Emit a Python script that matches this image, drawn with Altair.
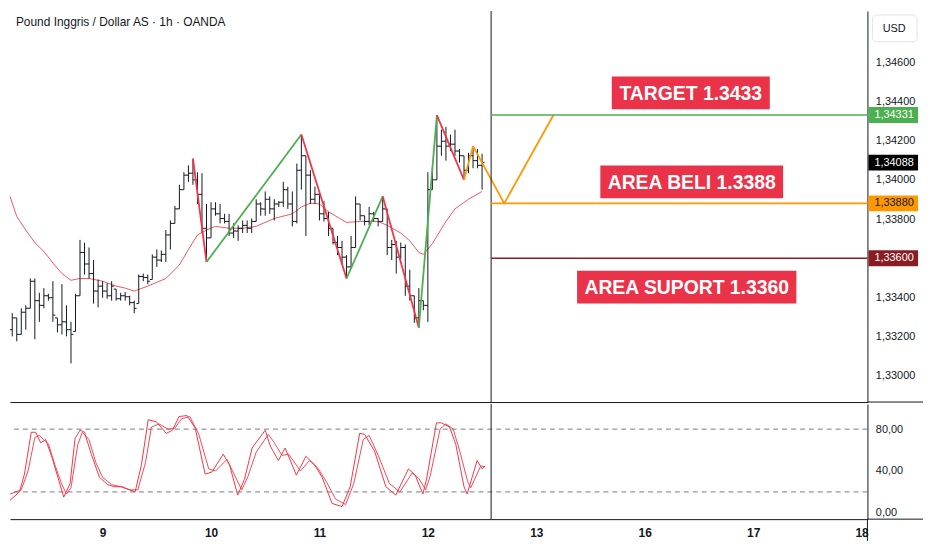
import altair as alt
import pandas as pd

# ---------------- data ----------------
TITLE = "Pound Inggris / Dollar AS · 1h · OANDA"
FIRST_BAR = -20          # bar index, 0 = first hour of day 9, 1 unit = 1 hour

bar_open = [1.33236, 1.33296, 1.33212, 1.33325, 1.33345, 1.33483, 1.33384, 1.33360, 1.33409, 1.33399,
            1.33296, 1.33261, 1.33276, 1.33236, 1.33227, 1.33409, 1.33630, 1.33571, 1.33522, 1.33433,
            1.33458, 1.33433, 1.33409, 1.33443, 1.33394, 1.33409, 1.33404, 1.33374, 1.33369, 1.33507,
            1.33502, 1.33492, 1.33606, 1.33591, 1.33620, 1.33719, 1.33778, 1.33852, 1.33950, 1.34024,
            1.34034, 1.34000, 1.33926, 1.33753, 1.33704, 1.33852, 1.33827, 1.33803, 1.33788, 1.33729,
            1.33739, 1.33753, 1.33768, 1.33753, 1.33788, 1.33877, 1.33852, 1.33901, 1.33852, 1.33877,
            1.33886, 1.33950, 1.33877, 1.33788, 1.34049, 1.34123, 1.34024, 1.33901, 1.33926, 1.33827,
            1.33803, 1.33753, 1.33680, 1.33655, 1.33606, 1.33556, 1.33655, 1.33877, 1.33817, 1.33788,
            1.33827, 1.33803, 1.33788, 1.33852, 1.33655, 1.33670, 1.33606, 1.33655, 1.33458, 1.33409,
            1.33296, 1.33384, 1.33360, 1.33950, 1.34000, 1.34172, 1.34197, 1.34172, 1.34182, 1.34147,
            1.34123, 1.34049, 1.34123, 1.34098, 1.34074]
bar_high = [1.33320, 1.33296, 1.33345, 1.33360, 1.33497, 1.33497, 1.33424, 1.33448, 1.33419, 1.33483,
            1.33296, 1.33468, 1.33360, 1.33276, 1.33419, 1.33694, 1.33680, 1.33655, 1.33591, 1.33492,
            1.33483, 1.33473, 1.33483, 1.33443, 1.33424, 1.33428, 1.33409, 1.33384, 1.33517, 1.33522,
            1.33517, 1.33620, 1.33645, 1.33640, 1.33744, 1.33793, 1.33867, 1.33975, 1.34039, 1.34074,
            1.34108, 1.34039, 1.34034, 1.33877, 1.33886, 1.33886, 1.33877, 1.33827, 1.33827, 1.33778,
            1.33768, 1.33793, 1.33793, 1.33803, 1.33901, 1.33886, 1.33941, 1.33916, 1.33901, 1.33891,
            1.33990, 1.33965, 1.33941, 1.34083, 1.34231, 1.34123, 1.34049, 1.33965, 1.33941, 1.33891,
            1.33837, 1.33753, 1.33714, 1.33689, 1.33616, 1.33714, 1.33916, 1.33877, 1.33817, 1.33862,
            1.33837, 1.33803, 1.33916, 1.33852, 1.33694, 1.33689, 1.33680, 1.33670, 1.33542, 1.33409,
            1.33448, 1.33384, 1.34039, 1.34064, 1.34330, 1.34256, 1.34270, 1.34231, 1.34256, 1.34157,
            1.34123, 1.34138, 1.34172, 1.34157, 1.34133]
bar_low = [1.33202, 1.33177, 1.33212, 1.33236, 1.33345, 1.33187, 1.33276, 1.33345, 1.33384, 1.33276,
           1.33222, 1.33212, 1.33202, 1.33064, 1.33227, 1.33409, 1.33517, 1.33497, 1.33369, 1.33350,
           1.33399, 1.33394, 1.33384, 1.33384, 1.33384, 1.33384, 1.33360, 1.33320, 1.33369, 1.33483,
           1.33468, 1.33492, 1.33556, 1.33581, 1.33581, 1.33645, 1.33778, 1.33852, 1.33950, 1.33990,
           1.33975, 1.33877, 1.33729, 1.33581, 1.33704, 1.33817, 1.33778, 1.33778, 1.33714, 1.33704,
           1.33689, 1.33729, 1.33729, 1.33729, 1.33788, 1.33817, 1.33817, 1.33827, 1.33793, 1.33862,
           1.33862, 1.33852, 1.33763, 1.33778, 1.33950, 1.33714, 1.33877, 1.33877, 1.33793, 1.33788,
           1.33714, 1.33670, 1.33616, 1.33571, 1.33497, 1.33556, 1.33655, 1.33793, 1.33768, 1.33768,
           1.33788, 1.33763, 1.33788, 1.33616, 1.33591, 1.33522, 1.33596, 1.33409, 1.33384, 1.33271,
           1.33246, 1.33335, 1.33276, 1.33950, 1.34000, 1.34123, 1.34098, 1.34147, 1.34123, 1.34088,
           1.34000, 1.34034, 1.34059, 1.34059, 1.33950]
bar_close = [1.33296, 1.33212, 1.33325, 1.33345, 1.33483, 1.33384, 1.33360, 1.33409, 1.33399, 1.33310,
             1.33261, 1.33276, 1.33236, 1.33212, 1.33409, 1.33630, 1.33571, 1.33522, 1.33433, 1.33458,
             1.33433, 1.33409, 1.33458, 1.33394, 1.33409, 1.33404, 1.33374, 1.33345, 1.33507, 1.33502,
             1.33483, 1.33606, 1.33591, 1.33620, 1.33719, 1.33778, 1.33852, 1.33950, 1.34024, 1.34034,
             1.34000, 1.33926, 1.33753, 1.33704, 1.33852, 1.33827, 1.33803, 1.33788, 1.33729, 1.33739,
             1.33753, 1.33768, 1.33753, 1.33788, 1.33877, 1.33852, 1.33901, 1.33852, 1.33877, 1.33886,
             1.33950, 1.33877, 1.33788, 1.34049, 1.34123, 1.34024, 1.33901, 1.33926, 1.33827, 1.33803,
             1.33753, 1.33680, 1.33655, 1.33606, 1.33556, 1.33655, 1.33877, 1.33817, 1.33788, 1.33827,
             1.33803, 1.33788, 1.33852, 1.33655, 1.33670, 1.33606, 1.33655, 1.33458, 1.33409, 1.33296,
             1.33384, 1.33360, 1.33950, 1.34000, 1.34172, 1.34197, 1.34172, 1.34182, 1.34147, 1.34123,
             1.34049, 1.34123, 1.34098, 1.34074, 1.34088]

ma_idx = [-20.5, -19, -17, -15, -13, -11, -9, -7, -5, -3, 0, 3, 5, 7, 10, 14, 17, 19, 21, 23, 25, 28,
          31, 34, 38, 42, 44, 46, 48, 50, 54, 57, 61, 63, 66, 68, 70, 71, 73, 76, 78, 81, 84]
ma_val = [1.33916, 1.33813, 1.33744, 1.33680, 1.33635, 1.33576, 1.33522, 1.33488, 1.33497, 1.33497,
          1.33483, 1.33458, 1.33448, 1.33433, 1.33458, 1.33497, 1.33566, 1.33645, 1.33719, 1.33744,
          1.33763, 1.33753, 1.33753, 1.33763, 1.33803, 1.33827, 1.33862, 1.33881, 1.33877, 1.33837,
          1.33783, 1.33788, 1.33788, 1.33768, 1.33729, 1.33689, 1.33630, 1.33620, 1.33675, 1.33788,
          1.33852, 1.33901, 1.33941]

k_idx = [-20.5, -18.4, -17.3, -15.8, -14.8, -13.7, -12.6, -11.2, -9.7, -8.6, -7.2, -6.1, -5.0, -4.0,
         -2.5, -0.7, 1.1, 2.5, 4.3, 5.4, 7.2, 8.6, 10.1, 11.9, 14.1, 15.5, 16.9, 18.7, 20.5, 22.7, 24.2,
         26.7, 28.1, 29.9, 31.4, 33.1, 36.0, 37.1, 38.9, 40.4, 42.9, 45.0, 46.9, 48.6, 50.8, 53.0, 54.8,
         56.9, 58.0, 60.2, 62.7, 64.9, 67.7, 69.2, 70.9, 71.7, 73.9, 75.0, 76.8, 78.2, 80.0, 80.7, 82.9,
         84.0, 84.7]
k_val = [12, 20, 37, 77, 77, 67, 70, 53, 31, 15, 28, 71, 79, 77, 56, 34, 27, 25, 25, 23, 20, 46, 89,
         87, 76, 79, 92, 93, 81, 37, 39, 56, 46, 17, 32, 62, 79, 64, 50, 62, 36, 54, 46, 34, 9, 6, 25,
         76, 75, 59, 25, 17, 42, 36, 18, 32, 86, 86, 82, 65, 25, 18, 50, 42, 45]
d_idx = [-20.5, -18, -16.5, -15, -14, -13, -12, -10.5, -9, -8, -7, -5.5, -4.5, -3, -1.5, 0, 2, 4, 6,
         7.8, 9.5, 10.8, 12.5, 14.5, 16, 17.5, 19.3, 21.3, 23.5, 25, 27.5, 29, 30.8, 32.2, 34, 36.7, 38,
         39.7, 41.2, 43.8, 45.8, 47.6, 49.5, 51.6, 53.8, 55.6, 57.7, 59, 61, 63.5, 65.8, 68.5, 70, 71.5,
         72.5, 74.7, 76, 77.6, 79, 80.8, 81.5, 83.7, 84.7]
d_val = [18, 22, 40, 72, 74, 70, 66, 45, 27, 18, 24, 65, 77, 70, 48, 34, 27, 25, 22, 22, 48, 82, 85,
         80, 81, 90, 92, 75, 42, 40, 51, 38, 22, 35, 58, 75, 67, 55, 56, 40, 50, 43, 30, 13, 8, 28, 70,
         74, 55, 28, 20, 38, 33, 22, 35, 80, 85, 80, 60, 30, 24, 45, 44]

pivot_idx = [20, 23, 44, 54, 62, 70, 74, 80, 82, 88.9, 99.8]
pivot_price = [1.34108, 1.33581, 1.34231, 1.33497, 1.33916, 1.33246, 1.34330, 1.34000, 1.34172,
               1.33880, 1.34331]
seg_kind = ["down", "up", "down", "up", "down", "up", "down", "plan", "plan", "plan"]

now_idx = 86
level_price = [1.34331, 1.33880, 1.33600]
level_name = ["TARGET 1.3433", "AREA BELI 1.3388", "AREA SUPORT 1.3360"]
label_idx = [130.2, 130.4, 129.3]
label_price = [1.34443, 1.33990, 1.33453]
last_price = 1.34088

price_ticks = [1.330, 1.332, 1.334, 1.338, 1.340, 1.342, 1.344, 1.346]
stoch_ticks = [0, 40, 80]
stoch_bands = [20, 80]
day_idx = [0, 24, 48, 72, 96, 120, 144, 168]
day_labels = ["9", "10", "11", "12", "13", "16", "17", "18"]

# ---------------- styling ----------------
W, H1, H2 = 864, 394, 116
FONT = "Liberation Sans, Arial, sans-serif"
INK = "#131722"
RED = "#f23645"
GREEN = "#4caf50"
ORANGE = "#ff9800"
MAROON = "#8a1c24"
LABEL_RED = "#ea3349"
ANN_SIZE = 19.5
kind_color = {"up": GREEN, "down": RED, "plan": ORANGE}
level_color = [GREEN, ORANGE, MAROON]
level_txt = ["#ffffff", INK, "#ffffff"]

# bold Liberation Sans advance widths (em) for the annotation boxes
BOLD_EM = {"A": .722, "R": .722, "E": .667, "T": .611, "G": .778, "B": .722, "L": .611, "I": .278,
           "S": .667, "U": .722, "P": .667, "O": .778, " ": .278, ".": .278}

xs = alt.Scale(domain=[-20.5, 169.3], nice=False, zero=False)
ys = alt.Scale(domain=[1.32867, 1.34861], nice=False, zero=False)
ss = alt.Scale(domain=[-6, 104], nice=False, zero=False)

x_main_axis = alt.Axis(title=None, labels=False, ticks=False, grid=False,
                       domainColor=INK, domainWidth=1)
y_main_axis = alt.Axis(orient="right", title=None, values=price_ticks, ticks=False, grid=False,
                       labelExpr="replace(format(datum.value, '.5f'), '.', ',')",
                       domainColor=INK, labelColor=INK, labelFont=FONT, labelFontSize=11,
                       labelPadding=8)
x_st_axis = alt.Axis(title=None, values=day_idx, ticks=False, grid=False, labelFlush=False,
                     labelExpr=f"{day_labels}[round(datum.value / 24)]",
                     domainColor=INK, labelColor=INK, labelFont=FONT, labelFontSize=12,
                     labelFontWeight="bold", labelPadding=8)
y_st_axis = alt.Axis(orient="right", title=None, values=stoch_ticks, ticks=False, grid=False,
                     labelExpr="replace(format(datum.value, '.2f'), '.', ',')",
                     domainColor=INK, labelColor=INK, labelFont=FONT, labelFontSize=11,
                     labelPadding=8)


def X(f):
    return alt.X(f"{f}:Q", scale=xs, axis=x_main_axis)


def Y(f):
    return alt.Y(f"{f}:Q", scale=ys, axis=y_main_axis)


def XS(f):
    return alt.X(f"{f}:Q", scale=xs, axis=x_st_axis)


def YS(f):
    return alt.Y(f"{f}:Q", scale=ss, axis=y_st_axis)


def comma(v):
    return f"{v:.5f}".replace(".", ",")


def box_width(s, em=ANN_SIZE):
    return sum(BOLD_EM.get(ch, .556) for ch in s) * em + 14


one = pd.DataFrame({"t": [TITLE]})

# ---------------- main price panel ----------------
bars = pd.DataFrame({"i": list(range(FIRST_BAR, FIRST_BAR + len(bar_high))),
                     "o": bar_open, "h": bar_high, "l": bar_low, "c": bar_close})
ma_df = pd.DataFrame({"i": ma_idx, "v": ma_val})
seg_df = pd.DataFrame({"x1": pivot_idx[:-1], "x2": pivot_idx[1:],
                       "y1": pivot_price[:-1], "y2": pivot_price[1:],
                       "col": [kind_color[k] for k in seg_kind]})
lev_df = pd.DataFrame({"s": [now_idx] * len(level_price), "p": level_price, "col": level_color})
box_df = pd.DataFrame({"p": level_price + [last_price],
                       "col": level_color + ["#000000"],
                       "tc": level_txt + ["#ffffff"],
                       "lab": [comma(v) for v in level_price + [last_price]]})
now_df = pd.DataFrame({"i": [now_idx]})

ma = alt.Chart(ma_df).mark_line(color=RED, strokeWidth=1, opacity=0.85).encode(x=X("i"), y=Y("v"))
hl = alt.Chart(bars).mark_rule(color=INK, strokeWidth=1).encode(x=X("i"), y=Y("l"), y2="h")
op = alt.Chart(bars).mark_tick(orient="horizontal", color=INK, size=2.4, thickness=1,
                               xOffset=-1.2, opacity=1).encode(x=X("i"), y=Y("o"))
cl = alt.Chart(bars).mark_tick(orient="horizontal", color=INK, size=2.4, thickness=1,
                               xOffset=1.2, opacity=1).encode(x=X("i"), y=Y("c"))
zz = alt.Chart(seg_df).mark_rule(strokeWidth=1.8).encode(
    x=X("x1"), x2="x2", y=Y("y1"), y2="y2", color=alt.Color("col:N", scale=None))
now_main = alt.Chart(now_df).mark_rule(color=INK, strokeWidth=1).encode(x=X("i"))
lev = alt.Chart(lev_df).mark_rule(strokeWidth=1.6).encode(
    x=X("s"), x2=alt.value(W), y=Y("p"), color=alt.Color("col:N", scale=None))

ann_layers = []
for name, xi, pr in zip(level_name, label_idx, label_price):
    d = pd.DataFrame({"i": [xi], "p": [pr], "t": [name]})
    ann_layers.append(alt.Chart(d).mark_tick(orient="horizontal", color=LABEL_RED, opacity=1,
                                             size=box_width(name), thickness=33)
                      .encode(x=X("i"), y=Y("p")))
    ann_layers.append(alt.Chart(d).mark_text(color="white", font=FONT, fontSize=ANN_SIZE,
                                             fontWeight="bold", baseline="middle", dy=1)
                      .encode(x=X("i"), y=Y("p"), text="t:N"))

axis_boxes = alt.Chart(box_df).mark_tick(orient="horizontal", opacity=1, size=50,
                                         thickness=16).encode(
    x=alt.value(W + 26), y=Y("p"), color=alt.Color("col:N", scale=None))
axis_box_txt = alt.Chart(box_df).mark_text(align="left", baseline="middle", font=FONT,
                                           fontSize=11).encode(
    x=alt.value(W + 7), y=Y("p"), text="lab:N", color=alt.Color("tc:N", scale=None))

usd_box = alt.Chart(one).mark_rect(fill="white", stroke="#e0e3eb", cornerRadius=4).encode(
    x=alt.value(W + 5), x2=alt.value(W + 50), y=alt.value(4), y2=alt.value(31))
usd_txt = alt.Chart(one).mark_text(font=FONT, fontSize=11, color=INK, baseline="middle").encode(
    x=alt.value(W + 27), y=alt.value(18), text=alt.value("USD"))
title_txt = alt.Chart(one).mark_text(align="left", baseline="middle", font=FONT, fontSize=12,
                                     color=INK).encode(
    x=alt.value(6), y=alt.value(11), text="t:N")
sep_ext = alt.Chart(one).mark_rule(color=INK, strokeWidth=1).encode(
    x=alt.value(W), x2=alt.value(W + 56), y=alt.value(H1))

main = alt.layer(ma, hl, op, cl, zz, now_main, lev, *ann_layers, axis_boxes, axis_box_txt,
                 usd_box, usd_txt, title_txt, sep_ext).properties(width=W, height=H1)

# ---------------- stochastic panel ----------------
band_df = pd.DataFrame({"b": stoch_bands})
k_df = pd.DataFrame({"i": k_idx, "v": k_val})
d_df = pd.DataFrame({"i": d_idx, "v": d_val})

bands = alt.Chart(band_df).mark_rule(color="#787b86", strokeDash=[5, 4], strokeWidth=1).encode(
    y=YS("b"))
kline = alt.Chart(k_df).mark_line(color=RED, strokeWidth=1).encode(x=XS("i"), y=YS("v"))
dline = alt.Chart(d_df).mark_line(color=RED, strokeWidth=1, opacity=0.9).encode(x=XS("i"), y=YS("v"))
now_st = alt.Chart(now_df).mark_rule(color=INK, strokeWidth=1).encode(x=XS("i"))
bot_ext = alt.Chart(one).mark_rule(color=INK, strokeWidth=1).encode(
    x=alt.value(W), x2=alt.value(W + 56), y=alt.value(H2))
right_ext = alt.Chart(one).mark_rule(color=INK, strokeWidth=1).encode(
    x=alt.value(W), y=alt.value(H2), y2=alt.value(H2 + 22))

stoch = alt.layer(bands, dline, kline, now_st, bot_ext, right_ext).properties(width=W, height=H2)

chart = alt.vconcat(main, stoch, spacing=0).properties(
    padding=0, background="white"
).configure(font=FONT).configure_view(stroke=None)

chart.save("out.html", embed_options={"renderer": "svg", "actions": False})
